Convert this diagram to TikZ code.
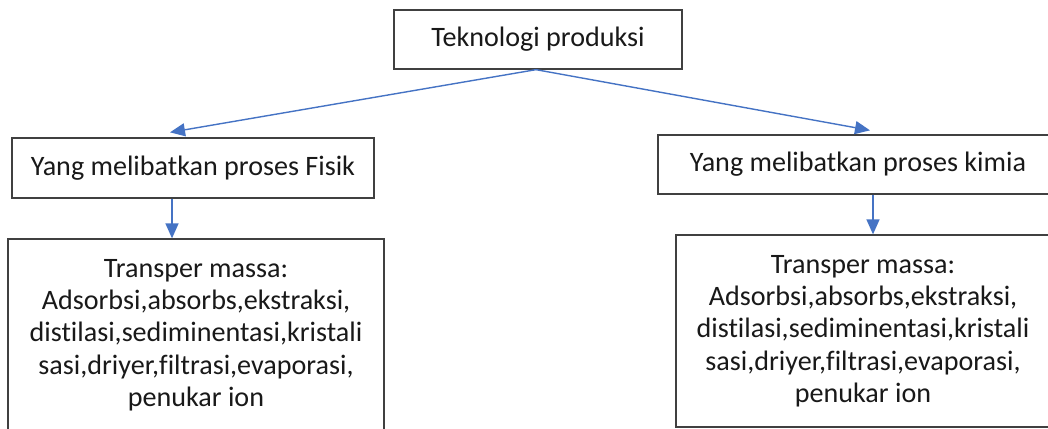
\documentclass[tikz,border=0pt]{standalone}
\usepackage{fontspec}
\setmainfont[Ligatures=NoCommon]{Carlito}
\definecolor{linecolor}{rgb}{0.27, 0.45, 0.77}
\definecolor{boxcolor}{rgb}{0.25, 0.25, 0.25}
\usetikzlibrary{arrows.meta,shapes,positioning}
\tikzset{
	block/.style={
		rectangle,
		draw=boxcolor,
		line width=0.75pt,
		fill=white,
		text=black!90,
		font=\fontsize{16}{18.4}\selectfont,
		align=center,
		inner sep=0pt
	},
	arrow/.style={
		draw=linecolor,
		line width=0.8pt,
		-{Triangle[length=0.3cm,width=0.26cm]}
	},
}

\begin{document}
\begin{tikzpicture}[x=0.02cm,y=-0.02cm]
		\clip (0,0) rectangle (1048,429);
		\node (teknologi) [block,minimum width=5.76cm,minimum height=1.18cm] at (538,39.5) {Teknologi produksi};
		\node (fisik) [block,minimum width=7.24cm,minimum height=1.2cm] at (193,168) {Yang melibatkan proses Fisik};
		\node (kimia) [block,minimum width=8cm,minimum height=1.18cm] at (858,164.5) {Yang melibatkan proses kimia};
		\node (massafisik) [block,minimum width=7.52cm,minimum height=3.84cm] at (196,335) {Transper massa:\\Adsorbsi,absorbs,ekstraksi,\\distilasi,sediminentasi,kristali\\sasi,driyer,filtrasi,evaporasi,\\penukar ion};
		\node (massakimia) [block,minimum width=7.48cm,minimum height=3.84cm] at (863,331) {Transper massa:\\Adsorbsi,absorbs,ekstraksi,\\distilasi,sediminentasi,kristali\\sasi,driyer,filtrasi,evaporasi,\\penukar ion};
		
		\draw [arrow] ([xshift=-0.04cm]teknologi.south) -- ([xshift=-0.46cm,yshift=0.1cm]fisik.north);
		\draw [arrow] ([xshift=-0.04cm]teknologi.south) -- ([xshift=0.24cm,yshift=0.08cm]kimia.north);
		\draw [arrow] ([xshift=-0.42cm]fisik.south) -- ([xshift=-0.42cm]fisik.south |- massafisik.north);
		\draw [arrow] ([xshift=0.3cm]kimia.south) -- ([xshift=0.3cm]kimia.south |- massakimia.north);
		
\end{tikzpicture}
\end{document}
